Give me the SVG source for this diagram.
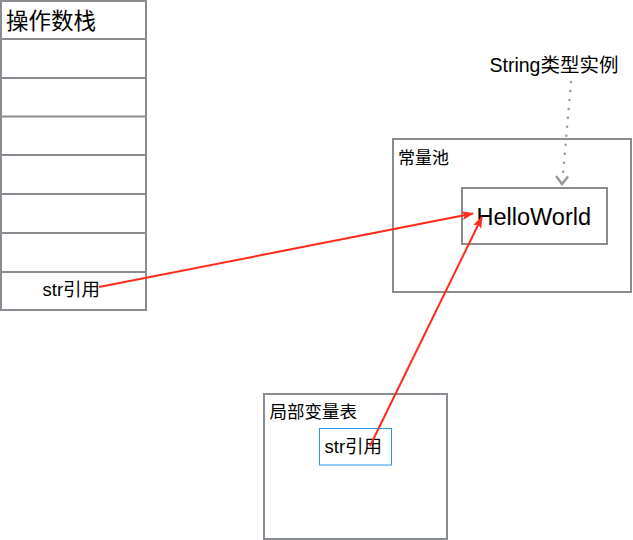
<svg xmlns="http://www.w3.org/2000/svg" width="633" height="540" viewBox="0 0 633 540">
<defs>
<style>
.box{fill:#fff;stroke:#898c90;stroke-width:2}
.sep{stroke:#898c90;stroke-width:2}
.t{font-family:"Liberation Sans","Noto Sans CJK SC",sans-serif;fill:#000}
.red{stroke:#ff2a1a;stroke-width:2;fill:none}
</style>
<marker id="ra" viewBox="0 0 12 10" refX="11" refY="5" markerWidth="12" markerHeight="10" orient="auto" markerUnits="userSpaceOnUse">
<path d="M0,0.5 L12,5 L0,9.5 L2.5,5 z" fill="#ff2a1a"/>
</marker>
</defs>
<rect width="633" height="540" fill="#fff"/>
<g id="operand-stack">
<rect class="box" x="1" y="1" width="145" height="309"/>
<line class="sep" x1="1" y1="39" x2="146" y2="39"/>
<line class="sep" x1="1" y1="78" x2="146" y2="78"/>
<line class="sep" x1="1" y1="116.5" x2="146" y2="116.5"/>
<line class="sep" x1="1" y1="155" x2="146" y2="155"/>
<line class="sep" x1="1" y1="194" x2="146" y2="194"/>
<line class="sep" x1="1" y1="233" x2="146" y2="233"/>
<line class="sep" x1="1" y1="272" x2="146" y2="272"/>
<text class="t" x="6" y="29" font-size="22.5">操作数栈</text>
<text class="t" x="42.5" y="296" font-size="18.5">str引用</text>
</g>
<g id="constant-pool">
<rect class="box" x="393" y="139" width="238" height="153"/>
<text class="t" x="398" y="164" font-size="17">常量池</text>
</g>
<g id="helloworld">
<rect class="box" x="462" y="188" width="145" height="56"/>
<text class="t" x="476.5" y="225" font-size="23.5">HelloWorld</text>
</g>
<g id="string-instance">
<text class="t" x="489.5" y="71.5" font-size="19.5">String类型实例</text>
</g>
<g id="local-var-table">
<rect class="box" x="264" y="394" width="183" height="145"/>
<text class="t" x="269.5" y="418" font-size="17.5">局部变量表</text>
</g>
<g id="str-ref">
<rect x="319.5" y="428.5" width="72" height="36.5" fill="#fff" stroke="#2a9af0" stroke-width="1"/>
<text class="t" x="324.5" y="452.5" font-size="18.5">str引用</text>
</g>
<g id="connectors">
<line x1="571" y1="82" x2="562.5" y2="180" stroke="#999" stroke-width="2.5" stroke-linecap="round" stroke-dasharray="0 9"/>
<path d="M556,176 L562,184 L568,176.5" fill="none" stroke="#999" stroke-width="2.5"/>
<line class="red" x1="99" y1="287" x2="473" y2="213.5" marker-end="url(#ra)"/>
<line class="red" x1="370" y1="446" x2="482" y2="217" marker-end="url(#ra)"/>
</g>
</svg>
